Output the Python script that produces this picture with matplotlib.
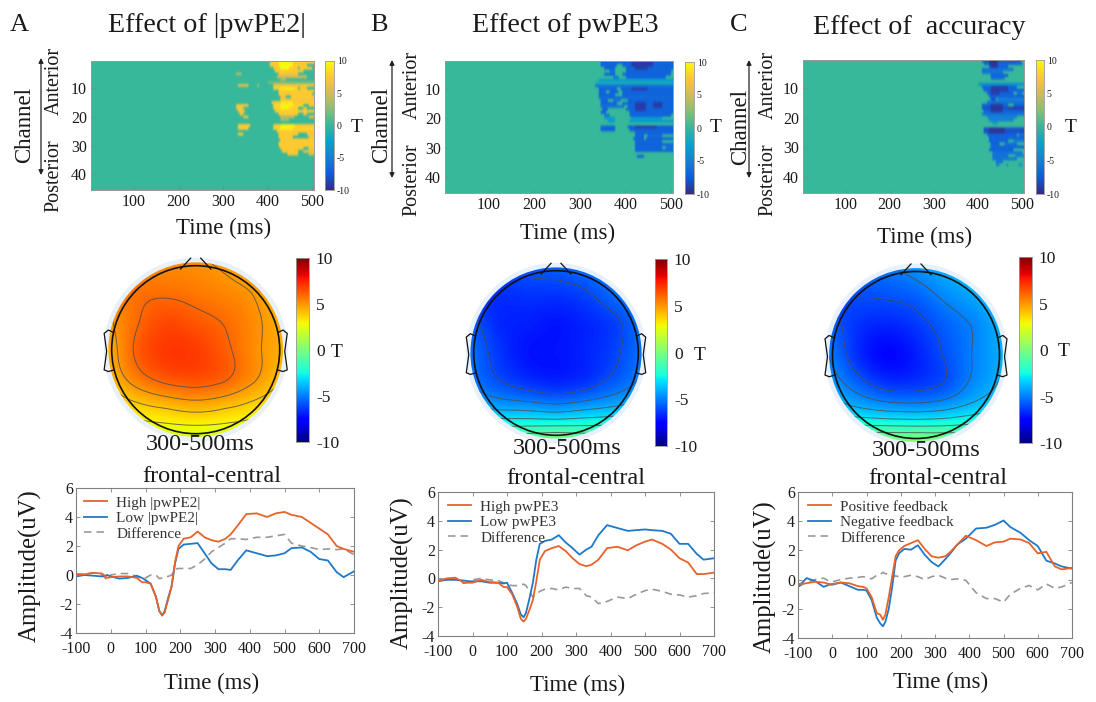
import numpy as np
import matplotlib
matplotlib.use("Agg")
import matplotlib.pyplot as plt
from matplotlib.colors import LinearSegmentedColormap
from matplotlib.patches import Circle

W, H = 1096, 702
plt.rcParams['font.family'] = ['Liberation Serif', 'DejaVu Serif']
plt.rcParams['axes.unicode_minus'] = False

# ---------- data ----------
panel_letters = ['A', 'B', 'C']
titles = ['Effect of |pwPE2|', 'Effect of pwPE3', 'Effect of  accuracy']
heat_xticks = [100, 200, 300, 400, 500]
heat_yticks = [10, 20, 30, 40]
cb_ticks = [-10, -5, 0, 5, 10]
erp_xticks = [-100, 0, 100, 200, 300, 400, 500, 600, 700]
erp_yticks = [-4, -2, 0, 2, 4, 6]

# (channel, start ms, end ms, T)
segments_a = [
    (1,405,503,7.5),(2,405,488,7.5),(3,415,470,7.5),(3,475,500,7.5),(4,418,480,7.5),(5,425,470,7),
    (6,420,490,5),(7,430,440,3),(8,400,503,2),(9,412,503,7),(10,415,470,8),(10,475,490,7.5),
    (11,425,503,7.5),(12,425,500,7.5),(13,430,440,7),(13,455,503,7.5),(14,430,503,7),
    (15,410,503,7.5),(16,412,480,8),(16,495,503,7),(17,415,470,8),(17,480,490,7.5),(18,418,503,7.5),
    (19,425,470,7.5),(19,480,490,7),(20,430,460,4),(20,495,503,6),(21,430,450,3),
    (23,415,503,7.5),(24,415,503,8),(25,420,503,7.5),(26,425,470,7.5),(26,490,503,7),
    (27,425,455,7.5),(27,495,503,7),(28,430,503,7.5),(29,425,503,7.5),(30,425,503,7.5),
    (31,430,480,7.5),(31,495,503,7),(32,435,470,7.5),(32,480,503,6.5),(33,445,470,7),(33,495,503,5),
    (5,328,340,4),(9,335,355,6),(9,378,382,5),(16,330,355,7),(17,330,345,7),(18,335,350,7),
    (19,338,345,7),(20,345,355,6),(23,335,360,7.5),(24,335,355,7.5),(26,335,345,7),
    (1,425,455,9.5),(2,425,455,10),(3,430,450,10),(10,430,460,9),(15,430,455,9),(16,430,455,9.5),
    (17,430,450,9.5),(23,430,460,9.5),(24,430,455,9.5),
]
segments_b = [
    (1,344,503,-7),(2,344,380,-7),(2,395,503,-7),(3,355,375,-7),(3,400,503,-7),(4,365,375,-6),(4,400,500,-7),
    (5,355,378,-7),(5,395,500,-7),(6,375,385,-6),(6,400,490,-7),(7,340,503,-3),(8,335,503,-1.5),
    (9,335,503,-6),(10,340,380,-7),(10,390,503,-7),(11,340,355,-7),(11,365,385,-7),(11,395,503,-7),
    (12,340,375,-7),(12,395,503,-7),(13,340,503,-6.5),(14,345,360,-7),(14,375,390,-6),(14,405,503,-7),
    (15,345,380,-7),(15,395,503,-7),(16,345,395,-6),(16,405,503,-7),(17,350,360,-7),(17,400,503,-7),
    (18,345,355,-7),(18,410,503,-7),(19,355,365,-6),(19,410,500,-7),(20,355,375,-3),(20,415,480,-3),
    (21,360,375,-3),(21,410,503,-3),(23,345,375,-7),(23,405,503,-7.5),(24,345,375,-7),(24,410,503,-7),
    (25,420,503,-7),(26,420,440,-7),(26,450,480,-6.5),(27,418,440,-7),(27,445,503,-7),(28,420,480,-7),
    (29,420,503,-7),(30,420,480,-7),(30,490,503,-6),(31,420,503,-7),(33,425,440,-7),
    (1,415,460,-9),(2,415,460,-9),(3,420,450,-9),(10,415,450,-9),(15,420,445,-9),(16,420,445,-9),
    (17,420,445,-9),(15,460,480,-9),(16,460,480,-9),(23,420,470,-9),
]
segments_c = [
    (1,410,495,-7),(2,415,500,-7),(3,425,470,-7),(4,410,480,-6),(5,410,455,-6),(6,430,470,-7),(7,430,460,-6),
    (9,400,503,-4),(10,410,490,-7),(11,415,503,-7),(12,420,480,-7),(12,490,500,-6),(13,425,503,-7),
    (14,430,440,-8),(14,445,503,-5),(15,420,503,-6),(16,410,470,-7),(16,480,503,-7),(17,410,503,-8),
    (18,415,503,-7),(19,410,503,-6),(20,420,490,-5),(21,425,480,-5),(22,435,445,-3),
    (24,412,503,-8),(25,415,503,-8),(26,420,490,-7),(26,495,503,-6),(27,425,503,-7),(28,425,470,-7),
    (28,480,503,-5),(29,430,450,-7),(29,460,490,-6),(30,430,503,-7),(31,425,480,-7),(32,435,500,-6),
    (33,435,470,-6),(33,485,503,-5),(34,435,490,-6),(35,440,455,-6),(36,440,450,-5),(36,465,470,-4),
    (36,495,500,-4),
    (1,425,445,-9.5),(2,425,445,-9.5),(3,430,445,-9.5),(10,430,470,-9),(11,430,470,-9),(12,430,450,-9),
    (16,430,455,-9),(17,430,455,-9.5),(17,470,503,-9),(18,430,455,-9),(24,425,460,-9.5),(25,425,460,-9.5),
]

# topography: T on a 7x7 scalp grid, top row first
topo_a = [
    [4.3,4.8,5.1,5.1,4.8,4.3,4.0],
    [5.0,5.7,5.8,5.6,5.3,4.9,4.0],
    [4.8,5.9,6.6,6.3,5.9,5.2,4.4],
    [4.4,6.2,7.0,6.9,6.2,5.2,4.4],
    [4.1,5.5,6.3,6.5,6.1,5.1,4.0],
    [3.0,3.6,4.0,4.3,4.0,3.5,3.0],
    [2.2,2.2,2.2,2.2,2.2,2.2,2.2],
]
topo_b = [
    [-5.5,-6.0,-5.7,-5.6,-5.3,-5.0,-4.5],
    [-6.3,-6.6,-6.5,-6.5,-6.2,-5.4,-4.8],
    [-5.6,-6.7,-6.9,-7.1,-6.8,-6.3,-5.2],
    [-5.2,-6.4,-7.1,-7.1,-6.8,-6.2,-5.2],
    [-5.0,-5.9,-6.5,-6.8,-6.5,-5.7,-4.8],
    [-3.5,-3.9,-4.0,-4.2,-3.9,-3.6,-3.2],
    [-0.3,-0.3,-0.2,0.0,-0.2,-0.3,-0.3],
]
topo_c = [
    [-5.0,-5.5,-5.1,-4.6,-4.0,-3.6,-3.2],
    [-6.2,-6.0,-5.9,-5.6,-4.8,-4.2,-3.6],
    [-5.5,-6.5,-6.8,-6.4,-5.6,-4.9,-3.9],
    [-5.0,-6.6,-7.4,-6.9,-5.9,-4.9,-4.0],
    [-4.3,-5.5,-6.4,-6.4,-5.9,-4.7,-3.8],
    [-2.9,-3.4,-3.7,-3.8,-3.6,-3.1,-2.6],
    [0.3,0.4,0.5,0.5,0.4,0.3,0.3],
]
topo_levels_a = [2, 3, 4, 5, 6]
topo_levels_b = [-6, -5, -4, -3, -2, -1]
topo_levels_c = [-6, -5, -4, -3, -2, -1]

erp_time = [-100,-75,-50,-25,-10,0,25,50,75,90,100,115,130,140,148,155,165,175,185,195,210,230,250,270,290,
            310,330,345,365,390,420,450,475,500,520,550,575,600,625,650,670,700]
a_high = [0.0,0.05,0.15,0.1,-0.2,-0.15,-0.1,-0.1,-0.2,-0.5,-0.5,-0.6,-1.5,-2.5,-2.75,-2.6,-1.7,-0.8,0.9,2.0,2.5,2.6,3.0,2.6,2.4,
          2.3,2.5,2.8,3.4,4.2,4.25,4.0,4.25,4.35,4.15,4.0,3.6,3.2,2.8,2.0,1.8,1.6]
a_low = [-0.1,0,-0.05,-0.1,0,-0.1,-0.25,-0.2,-0.05,-0.2,-0.35,-0.6,-1.5,-2.5,-2.8,-2.5,-1.6,-0.8,0.8,1.8,2.1,2.15,2.2,1.5,0.8,
         0.4,0.4,0.35,1.0,1.7,1.5,1.3,1.35,1.5,1.85,1.9,1.6,1.1,1.0,0.2,-0.15,0.25]
a_diff = [0.1,0.05,0.15,0,-0.35,0,0.1,0.1,-0.1,-0.25,-0.2,0,0,-0.25,-0.2,-0.1,-0.1,0,0.4,0.45,0.45,0.45,0.7,1.1,1.6,
          1.9,2.2,2.5,2.5,2.45,2.6,2.6,2.7,2.8,2.2,2.0,1.9,1.75,1.8,1.75,1.8,1.4]
b_high = [-0.2,0,0.05,-0.3,-0.3,-0.3,-0.1,-0.25,-0.3,-0.6,-0.6,-1.1,-2.0,-2.8,-3.0,-2.8,-2.2,-1.5,-0.2,1.3,1.9,2.1,2.25,1.9,1.4,
          1.0,0.85,0.95,1.3,2.1,2.2,1.95,2.3,2.55,2.7,2.4,2.0,1.4,1.1,0.3,0.3,0.4]
b_low = [-0.2,-0.1,-0.1,-0.15,-0.2,-0.2,-0.2,-0.3,-0.3,-0.35,-0.3,-1.0,-1.8,-2.5,-2.7,-2.4,-1.4,-0.3,1.3,2.4,2.6,2.7,3.0,2.5,2.1,
         1.65,2.0,2.2,3.0,3.7,3.5,3.3,3.35,3.4,3.35,3.3,3.1,2.4,2.4,1.7,1.3,1.4]
b_diff = [-0.1,-0.05,0,-0.35,-0.2,-0.1,0,-0.1,-0.15,-0.3,-0.4,-0.5,-0.5,-0.45,-0.4,-0.5,-0.9,-1.3,-1.1,-0.9,-0.75,-0.7,-0.8,-0.6,-0.7,
          -0.7,-1.2,-1.3,-1.75,-1.6,-1.3,-1.4,-1.1,-0.85,-0.75,-0.9,-1.1,-1.15,-1.3,-1.2,-1.05,-1.0]
c_high = [-0.3,-0.25,-0.15,-0.2,-0.3,-0.3,-0.2,-0.25,-0.45,-0.5,-0.6,-1.2,-2.3,-2.4,-2.75,-2.4,-1.2,0.2,1.6,2.0,2.3,2.5,2.7,2.1,1.6,
          1.5,1.6,1.9,2.4,3.0,2.7,2.3,2.55,2.6,2.8,2.75,2.5,1.8,1.9,0.9,0.7,0.8]
c_low = [-0.5,0.1,-0.1,-0.5,-0.35,-0.35,-0.2,-0.45,-0.7,-0.7,-0.75,-1.4,-2.6,-3.0,-3.2,-2.9,-2.0,-0.5,1.3,1.8,2.1,2.05,2.35,1.7,1.2,
         0.9,1.4,1.8,2.4,2.8,3.5,3.55,3.75,4.05,3.6,3.2,2.7,2.3,1.3,1.1,0.9,0.75]
c_diff = [-0.5,-0.2,0,0.1,-0.1,-0.15,0,0.1,0.15,0.2,0.15,0.05,0.3,0.35,0.5,0.4,0.4,0.2,0.25,0.2,0.2,0.3,0.2,0,0.2,
          0.3,0.1,0,0.05,-0.05,-0.9,-1.3,-1.3,-1.55,-1.0,-0.6,-0.4,-0.7,-0.3,-0.6,-0.5,-0.2]
legend_a = ['High |pwPE2|', 'Low |pwPE2|', 'Difference']
legend_b = ['High pwPE3', 'Low pwPE3', 'Difference']
legend_c = ['Positive feedback', 'Negative feedback', 'Difference']

# ---------- layout (pixels) ----------
layouts = [
    dict(letter=(10,25), title=(207,25), heat=(91,61,314,190), hcb=(325,61,334,190), hT=(357,128),
         chan=(25,125), ant=(54,81), post=(54,176), arrow=(41,58,175), tlabel=(224,228),
         head=(195.7,349.7,84), tcb=(296,258,309,442), tT=(337,353), t1=(200,445), t2=(212,476),
         erp=(76,488,354,633), amp=(30,566), etime=(212,683), leg=(84,496)),
    dict(letter=(370,25), title=(565,26), heat=(445,61,673,193), hcb=(685,62,694,194), hT=(716,127),
         chan=(382,125), ant=(412,85), post=(412,180), arrow=(392,60,178), tlabel=(568,233),
         head=(556,353,82.3), tcb=(655,259,667,446), tT=(700,355), t1=(567,449), t2=(576,479),
         erp=(438,492,714,636), amp=(402,573), etime=(578,685), leg=(448,500)),
    dict(letter=(730,25), title=(919,28), heat=(803,60,1024,193), hcb=(1036,60,1044,194), hT=(1071,127),
         chan=(741,127), ant=(768,85), post=(768,180), arrow=(749,60,178), tlabel=(925,237),
         head=(916,355,83.5), tcb=(1019,257,1032,443), tT=(1064,352), t1=(926,450), t2=(938,479),
         erp=(798,492,1072,638), amp=(765,577), etime=(941,682), leg=(808,500)),
]

parula = LinearSegmentedColormap.from_list('parula', ['#352a87', '#0f5cdd', '#1481d6', '#06a4ca', '#36b89b',
                                                      '#87bf77', '#d1bb59', '#fec832', '#f9fb0e'])
fig = plt.figure(figsize=(W/100, H/100), dpi=100)
GRAY = '#808080'
TXT = '#1a1a1a'


def axpx(x0, y0, x1, y1, **kw):
    return fig.add_axes([x0/W, 1-y1/H, (x1-x0)/W, (y1-y0)/H], **kw)


def txt(xy, s, size, **kw):
    kw.setdefault('ha', 'center')
    kw.setdefault('va', 'center')
    fig.text(xy[0]/W, 1-xy[1]/H, s, fontsize=size, color=TXT, **kw)


def colorbar(box, cmap, size, pad):
    cax = axpx(*box)
    cax.imshow(np.linspace(10, -10, 256)[:, None], cmap=cmap, vmin=-10, vmax=10, aspect='auto',
               extent=[0, 1, -10, 10])
    cax.set_xticks([])
    cax.yaxis.tick_right()
    cax.set_yticks(cb_ticks)
    cax.tick_params(length=0, labelsize=size, pad=pad, labelcolor=TXT)
    for s in cax.spines.values():
        s.set_color('#999999')
        s.set_linewidth(0.6)


def heatmap(box, segs):
    ax = axpx(*box)
    times = np.arange(3, 506, 4)
    M = np.zeros((45, len(times)))
    for ch, a, b, v in segs:
        M[ch-1, (times >= a) & (times <= b)] = v
    ax.imshow(M, cmap=parula, vmin=-10, vmax=10, aspect='auto', interpolation='gaussian',
              extent=[3, 505, 45.5, 0.5])
    ax.set_xticks(heat_xticks)
    ax.set_yticks(heat_yticks)
    ax.tick_params(direction='in', length=2, width=0.6, color=GRAY, labelsize=11.5, pad=3, labelcolor=TXT)
    for s in ax.spines.values():
        s.set_color('#999999')
        s.set_linewidth(0.7)


def topo(cx, cy, r, grid, levels):
    f = 1.2
    ax = axpx(cx-f*r, cy-f*r, cx+f*r, cy+f*r)
    ax.set_xlim(-f, f)
    ax.set_ylim(-f, f)
    ax.axis('off')
    ax.add_patch(Circle((0, 0), 1.095, fc='#e8f1fb', ec='none', zorder=1))
    gx, gy = np.meshgrid(np.linspace(-1.05, 1.05, 7), np.linspace(1.05, -1.05, 7))
    P = np.c_[gx.ravel(), gy.ravel()]
    v = np.asarray(grid, float).ravel()

    def tps(d):
        with np.errstate(divide='ignore', invalid='ignore'):
            out = d**2*np.log(d)
        return np.nan_to_num(out)
    n = len(P)
    K = tps(np.linalg.norm(P[:, None]-P[None], axis=2))
    Q = np.c_[np.ones(n), P]
    A = np.block([[K, Q], [Q.T, np.zeros((3, 3))]])
    w = np.linalg.solve(A, np.r_[v, np.zeros(3)])
    xs = np.linspace(-1.1, 1.1, 220)
    X, Y = np.meshgrid(xs, xs)
    E = np.c_[X.ravel(), Y.ravel()]
    Z = (tps(np.linalg.norm(E[:, None]-P[None], axis=2))@w[:n] + np.c_[np.ones(len(E)), E]@w[n:]).reshape(X.shape)
    clip = Circle((0, 0), 1.04, transform=ax.transData)
    im = ax.imshow(Z, cmap='jet', vmin=-10, vmax=10, extent=[-1.1, 1.1, -1.1, 1.1], origin='lower',
                   interpolation='bilinear', zorder=2)
    im.set_clip_path(clip)
    cs = ax.contour(X, Y, Z, levels=levels, colors='#4d4d4d', linewidths=0.7, alpha=0.8,
                    negative_linestyles='solid', zorder=3)
    cs.set_clip_path(clip)
    ax.set_xlim(-f, f)
    ax.set_ylim(-f, f)
    ax.add_patch(Circle((0, 0), 1.0, fc='none', ec='#111111', lw=1.2, zorder=4))
    ear_x = [0.98, 1.04, 1.09, 1.06, 1.09, 1.04, 0.97]
    ear_y = [0.206, 0.234, 0.194, -0.02, -0.24, -0.26, -0.24]
    nose_x = [0.18, 0.06]
    nose_y = [0.96, 1.09]
    for sgn in (-1, 1):
        ax.plot(sgn*np.array(ear_x), ear_y, color='#111111', lw=0.9, zorder=4)
        ax.plot(sgn*np.array(nose_x), nose_y, color='#111111', lw=0.9, zorder=4)


def erp(box, high, low, diff, labels, legxy):
    ax = axpx(*box)
    ax.plot(erp_time, high, color='#e8622a', lw=1.3, label=labels[0], zorder=3)
    ax.plot(erp_time, low, color='#1f78c8', lw=1.3, label=labels[1], zorder=2)
    ax.plot(erp_time, diff, color='#999999', lw=1.2, ls=(0, (4.5, 3)), label=labels[2], zorder=1)
    ax.set_xlim(-100, 700)
    ax.set_ylim(-4, 6)
    ax.set_xticks(erp_xticks)
    ax.set_yticks(erp_yticks)
    ax.tick_params(direction='in', length=3, width=0.6, color=GRAY, labelsize=11.5, pad=2, labelcolor=TXT,
                   top=True, right=True)
    ax.tick_params(axis='x', pad=6)
    for s in ax.spines.values():
        s.set_color(GRAY)
        s.set_linewidth(0.8)
    leg = ax.legend(loc='upper left', bbox_to_anchor=(legxy[0]/W, 1-legxy[1]/H),
                    bbox_transform=fig.transFigure, frameon=False, fontsize=11, handlelength=1.5,
                    handletextpad=0.6, labelspacing=0.12, borderpad=0, borderaxespad=0)
    for t in leg.get_texts():
        t.set_color('#333333')


seglists = [segments_a, segments_b, segments_c]
topos = [topo_a, topo_b, topo_c]
levelsets = [topo_levels_a, topo_levels_b, topo_levels_c]
erps = [(a_high, a_low, a_diff, legend_a), (b_high, b_low, b_diff, legend_b), (c_high, c_low, c_diff, legend_c)]

for i, L in enumerate(layouts):
    txt(L['letter'], panel_letters[i], 19, ha='left')
    txt(L['title'], titles[i], 20.2)
    heatmap(L['heat'], seglists[i])
    colorbar(L['hcb'], parula, 7, 2)
    txt(L['hT'], 'T', 14)
    txt(L['chan'], 'Channel', 16.5, rotation=90)
    txt(L['ant'], 'Anterior', 14.5, rotation=90)
    txt(L['post'], 'Posterior', 14.5, rotation=90)
    ax_, y0_, y1_ = L['arrow']
    fig.add_artist(matplotlib.patches.FancyArrowPatch(
        (ax_/W, 1-y0_/H), (ax_/W, 1-y1_/H), transform=fig.transFigure, arrowstyle='<|-|>',
        mutation_scale=7, color='#222222', lw=0.9, shrinkA=0, shrinkB=0))
    txt(L['tlabel'], 'Time (ms)', 16.5)
    cx, cy, r = L['head']
    topo(cx, cy, r, topos[i], levelsets[i])
    colorbar(L['tcb'], 'jet', 12.5, 5)
    txt(L['tT'], 'T', 14)
    txt(L['t1'], '300-500ms', 17.5)
    txt(L['t2'], 'frontal-central', 17.5)
    h, l, d, labs = erps[i]
    erp(L['erp'], h, l, d, labs, L['leg'])
    txt(L['amp'], 'Amplitude(uV)', 17.8, rotation=90)
    txt(L['etime'], 'Time (ms)', 16.5)

fig.savefig('out.png', dpi=100, facecolor='white')
